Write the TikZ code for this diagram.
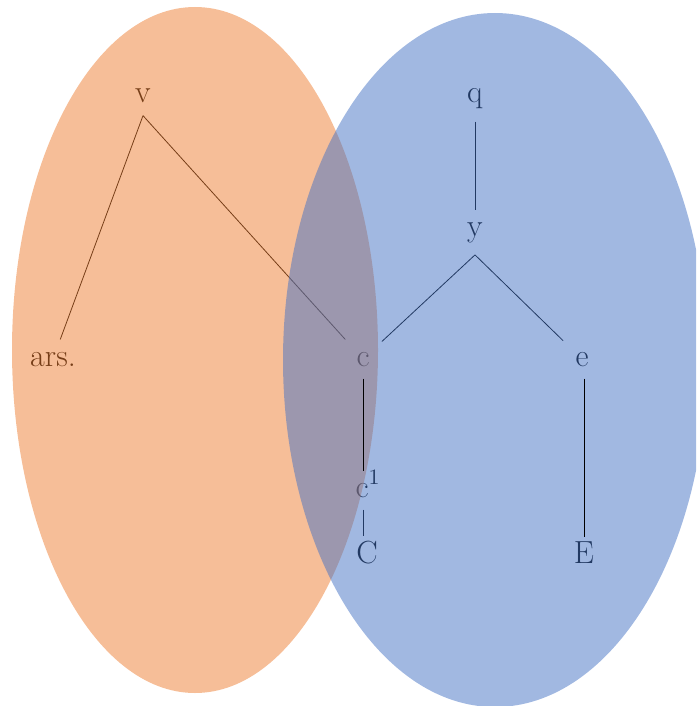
\documentclass[tikz,border=0pt]{standalone}
\definecolor{setorange}{HTML}{ED7D31}
\definecolor{setblue}{HTML}{4472C4}
\begin{document}
\begin{tikzpicture}[x=0.5pt,y=-0.5pt,
	word/.style={
		font=\fontsize{16}{19}\selectfont,
		inner sep=6pt,
		anchor=base},
	group/.style={
		fill opacity=0.5}]
	\clip [use as bounding box] (0,0) rectangle (696,706);
	\node [word] (v) at (143,103) {v};
	\node [word] (ars) at (53,366) {ars.};
	\node [word] (c) at (363,366) {c};
	\node [word,text height=7pt] (c1) at (368,497) {c$^1$};
	\node [word,inner ysep=2pt] (cc) at (367,563) {C};
	\node [word] (q) at (475,103) {q};
	\node [word] (y) at (475,236) {y};
	\node [word] (e) at (582,366) {e};
	\node [word,inner ysep=2pt] (ee) at (584,563) {E};
	\draw (v.south) edge (ars);
	\draw (v.south) edge (c);
	\draw (q.south) edge (y);
	\draw (y.south) edge (c);
	\draw (y.south) edge (e);
	\draw (c.south |- c1.south) edge (c.south |- cc.north);
	\fill [group, setorange] (195,350) ellipse [x radius=91.5pt, y radius=171.5pt];
	\fill [group, setblue] (495,360) ellipse [x radius=106pt, y radius=173.5pt];
	\draw (c.south) edge (c.south |- c1.north);
	\draw (e.south -| ee.north) edge (ee.north);
\end{tikzpicture}
\end{document}
